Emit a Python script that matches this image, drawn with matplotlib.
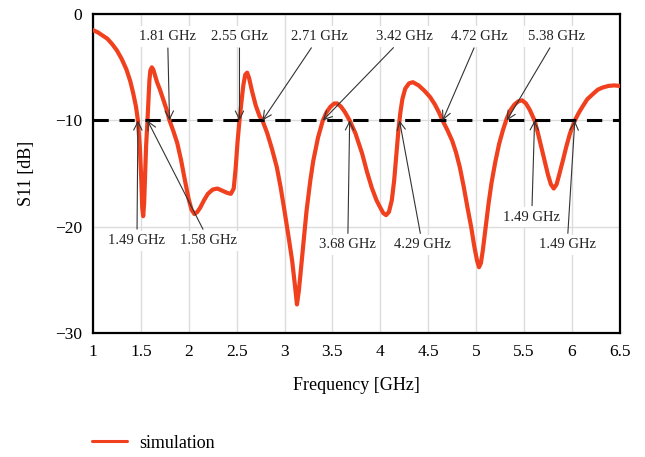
import matplotlib
matplotlib.use("Agg")
import matplotlib.pyplot as plt

plt.rcParams['font.family'] = ['Liberation Serif', 'DejaVu Serif']

# simulated S11
freq = [1.00, 1.05, 1.10, 1.15, 1.20, 1.25, 1.30, 1.35, 1.39, 1.42, 1.45, 1.47, 1.49,
        1.505, 1.515, 1.525, 1.535, 1.545, 1.555, 1.57, 1.58, 1.59, 1.60, 1.615, 1.63,
        1.65, 1.67, 1.70, 1.73, 1.77, 1.80, 1.84, 1.88, 1.92, 1.96, 2.00, 2.03, 2.06,
        2.09, 2.12, 2.16, 2.20, 2.25, 2.30, 2.35, 2.40, 2.44, 2.47, 2.49, 2.51, 2.53,
        2.55, 2.57, 2.59, 2.61, 2.63, 2.66, 2.70, 2.74, 2.77, 2.82, 2.87, 2.92, 2.96,
        3.00, 3.04, 3.08, 3.11, 3.13, 3.15, 3.18, 3.23, 3.27, 3.30, 3.35, 3.40, 3.44,
        3.48, 3.52, 3.55, 3.59, 3.63, 3.68, 3.74, 3.81, 3.86, 3.91, 3.96, 4.00, 4.03,
        4.06, 4.09, 4.12, 4.145, 4.17, 4.19, 4.21, 4.23, 4.26, 4.30, 4.34, 4.40, 4.46,
        4.52, 4.57, 4.61, 4.65, 4.70, 4.75, 4.79, 4.83, 4.87, 4.91, 4.95, 4.98, 5.01,
        5.03, 5.05, 5.07, 5.10, 5.13, 5.16, 5.20, 5.24, 5.28, 5.32, 5.36, 5.40, 5.44,
        5.48, 5.52, 5.56, 5.59, 5.61, 5.64, 5.68, 5.72, 5.75, 5.78, 5.81, 5.84, 5.87,
        5.91, 5.94, 5.98, 6.03, 6.07, 6.11, 6.16, 6.22, 6.27, 6.32, 6.38, 6.44, 6.50]
s11 = [-1.5, -1.7, -2.0, -2.3, -2.8, -3.4, -4.2, -5.2, -6.3, -7.4, -8.7, -10.0, -12.5,
       -15.5, -18.2, -19.0, -17.8, -15.0, -12.5, -10.0, -8.0, -6.2, -5.3, -5.0, -5.2,
       -5.8, -6.4, -7.1, -7.9, -9.0, -10.0, -11.0, -12.1, -13.7, -15.6, -17.4, -18.4, -18.8,
       -18.6, -18.2, -17.5, -16.9, -16.5, -16.4, -16.6, -16.8, -16.9, -16.4, -14.5, -12.0, -10.0,
       -8.3, -6.7, -5.7, -5.5, -6.0, -7.2, -8.6, -9.6, -10.0, -11.2, -12.7, -14.4, -16.3,
       -18.5, -20.8, -23.2, -25.6, -27.3, -26.0, -23.2, -18.5, -15.6, -13.8, -11.6, -10.0, -9.2,
       -8.7, -8.4, -8.4, -8.7, -9.2, -10.0, -11.2, -13.1, -14.8, -16.3, -17.5, -18.2, -18.7,
       -18.9, -18.6, -17.5, -15.6, -13.0, -10.8, -9.2, -8.0, -7.0, -6.5, -6.4, -6.7, -7.2,
       -7.8, -8.5, -9.2, -10.0, -10.9, -11.9, -13.0, -14.4, -16.2, -18.2, -20.1, -21.8, -23.2,
       -23.8, -23.4, -22.2, -20.0, -17.8, -15.9, -13.9, -12.2, -10.9, -9.8, -9.0, -8.5, -8.2,
       -8.1, -8.4, -9.0, -9.6, -10.0, -11.0, -12.5, -14.0, -15.1, -16.0, -16.4, -16.0, -15.0,
       -13.6, -12.5, -11.2, -10.0, -9.3, -8.7, -8.0, -7.5, -7.1, -6.9, -6.75, -6.7, -6.75]

# annotations: label, arrow tip frequency, label position (freq, dB)
ann_labels = ['1.49 GHz', '1.58 GHz', '1.81 GHz', '2.55 GHz', '2.71 GHz', '3.42 GHz',
              '3.68 GHz', '4.29 GHz', '4.72 GHz', '5.38 GHz', '1.49 GHz', '1.49 GHz']
ann_tip = [1.47, 1.57, 1.80, 2.53, 2.77, 3.40, 3.68, 4.20, 4.65, 5.32, 5.61, 6.03]
ann_xt = [1.46, 2.21, 1.78, 2.53, 3.36, 4.25, 3.66, 4.44, 5.03, 5.84, 5.58, 5.95]
ann_yt = [-21.3, -21.3, -2.1, -2.1, -2.1, -2.1, -21.7, -21.7, -2.1, -2.1, -19.1, -21.7]

fig = plt.figure(figsize=(6.45, 4.57), dpi=100)
ax = fig.add_axes([0.144, 0.271, 0.817, 0.698])

ax.plot(freq, s11, color='#f0401e', lw=3, label='simulation', zorder=3,
        solid_capstyle='round', solid_joinstyle='round')
ax.axhline(-10, color='black', lw=2.2, ls=(0, (5, 3.5)), zorder=4)

for lab, tip, xt, yt in zip(ann_labels, ann_tip, ann_xt, ann_yt):
    ax.annotate(lab, xy=(tip, -10), xytext=(xt, yt), ha='center', va='center',
                fontsize=10.5, color='#222222', zorder=5,
                bbox=dict(boxstyle='square,pad=0.25', fc='white', ec='none'),
                arrowprops=dict(arrowstyle='->', color='#333333', lw=0.8,
                                shrinkA=1, shrinkB=0, mutation_scale=15))

ax.set_xlim(1, 6.5)
ax.set_ylim(-30, 0)
ax.set_xticks([1, 1.5, 2, 2.5, 3, 3.5, 4, 4.5, 5, 5.5, 6, 6.5])
ax.set_xticklabels(['1', '1.5', '2', '2.5', '3', '3.5', '4', '4.5', '5', '5.5', '6', '6.5'])
ax.set_yticks([0, -10, -20, -30])
ax.tick_params(length=0, labelsize=12.5, pad=8)
ax.grid(True, color='#dcdcdc', lw=1)
ax.set_axisbelow(True)
for sp in ax.spines.values():
    sp.set_linewidth(1.6)

ax.set_xlabel('Frequency [GHz]', fontsize=13, labelpad=12)
ax.set_ylabel('S11 [dB]', fontsize=13, labelpad=14)

fig.legend(loc='center left', bbox_to_anchor=(0.118, 0.03), frameon=False,
           fontsize=13, handlelength=1.9, handletextpad=0.7)
for line in fig.legends[0].get_lines():
    line.set_linewidth(2.2)

fig.savefig('out.png', dpi=100)
